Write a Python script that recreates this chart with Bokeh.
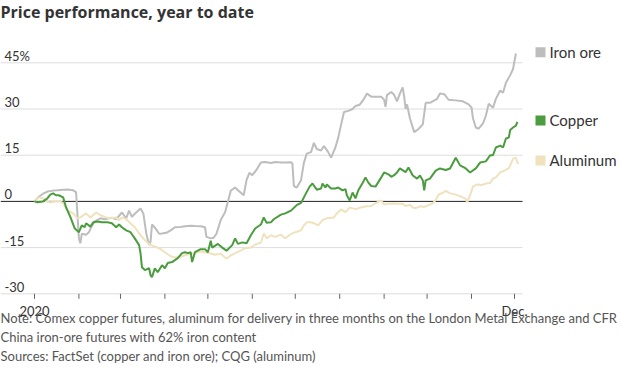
import pandas as pd
from bokeh.plotting import figure
from bokeh.models import Range1d, Label
from bokeh.embed import file_html
from bokeh.resources import INLINE

# ---------------- data (percent change since Jan 1, 2020) ----------------
iron_dates = ["2020-01-01","2020-01-04","2020-01-07","2020-01-10","2020-01-14","2020-01-17","2020-01-21","2020-01-24",
              "2020-01-28","2020-01-30","2020-02-01","2020-02-02","2020-02-03","2020-02-06","2020-02-08","2020-02-10",
              "2020-02-12","2020-02-14","2020-02-16","2020-02-19","2020-02-22","2020-02-24","2020-02-27","2020-03-02",
              "2020-03-05","2020-03-07","2020-03-09","2020-03-11","2020-03-15","2020-03-17","2020-03-19","2020-03-21",
              "2020-03-22","2020-03-23","2020-03-25","2020-03-28","2020-03-30","2020-04-02","2020-04-05","2020-04-08",
              "2020-04-12","2020-04-15","2020-04-19","2020-04-22","2020-04-26","2020-04-29","2020-04-30","2020-05-03",
              "2020-05-05","2020-05-07","2020-05-10","2020-05-13","2020-05-15","2020-05-17","2020-05-20","2020-05-23",
              "2020-05-26","2020-05-28","2020-05-30","2020-06-01","2020-06-04","2020-06-07","2020-06-10","2020-06-14",
              "2020-06-17","2020-06-21","2020-06-24","2020-06-28","2020-06-29","2020-06-30","2020-07-02","2020-07-05",
              "2020-07-07","2020-07-09","2020-07-12","2020-07-14","2020-07-16","2020-07-19","2020-07-21","2020-07-24",
              "2020-07-26","2020-07-29","2020-07-31","2020-08-02","2020-08-04","2020-08-07","2020-08-10","2020-08-12",
              "2020-08-15","2020-08-18","2020-08-20","2020-08-23","2020-08-26","2020-08-30","2020-09-01","2020-09-02",
              "2020-09-03","2020-09-06","2020-09-08","2020-09-10","2020-09-12","2020-09-14","2020-09-15","2020-09-16",
              "2020-09-17","2020-09-19","2020-09-22","2020-09-25","2020-09-28","2020-09-30","2020-10-03","2020-10-08",
              "2020-10-10","2020-10-13","2020-10-16","2020-10-21","2020-10-26","2020-10-30","2020-11-01","2020-11-02",
              "2020-11-04","2020-11-06","2020-11-09","2020-11-11","2020-11-13","2020-11-16","2020-11-18","2020-11-21",
              "2020-11-23","2020-11-25","2020-11-28","2020-11-30","2020-12-01","2020-12-02"]
iron_vals = [0, 1.5, 2.5, 3.2, 3.5, 3.6, 3.8, 3.9,
             3.6, 3.0, -12, -13.6, -10.5, -10.8, -10, -8,
             -6.5, -6, -5.5, -5.8, -5.5, -5.3, -5.8, -3.6,
             -5.5, -3, -5, -4, -2.3, -4, -10.4, -14.2,
             -13, -7.5, -8.5, -10.5, -10.4, -10.2, -9.4, -8.4,
             -8.3, -8.1, -7.9, -8, -8.1, -8.4, -11.5, -12,
             -11.8, -10.5, -6, -3.5, 0, 3.5, 4.5, 3.2,
             2, 7, 9.3, 8.5, 10.3, 12.6, 12.8, 12.5,
             12.8, 12.6, 12.6, 12.7, 12.3, 5, 4.5, 6.8,
             12.5, 15.5, 16, 19, 17, 16.5, 18, 16,
             14.2, 17.5, 20.7, 25, 29, 29.4, 30, 31,
             31.4, 33.3, 35, 34, 34, 34, 33, 30.7,
             34.5, 35.5, 34.6, 32.5, 35, 37, 34, 30,
             31.5, 27, 22.5, 23.5, 25, 32, 32, 33.3,
             35, 34.8, 33, 32.8, 32.5, 31.5, 30.5, 27,
             24, 23.6, 25.3, 27.8, 31.7, 30.4, 33.3, 36,
             35.3, 38.5, 41, 43, 45.6, 48]

copper_dates = ["2020-01-01","2020-01-03","2020-01-07","2020-01-10","2020-01-12","2020-01-14","2020-01-16","2020-01-18",
                "2020-01-21","2020-01-23","2020-01-26","2020-01-29","2020-02-01","2020-02-03","2020-02-05","2020-02-06",
                "2020-02-09","2020-02-11","2020-02-14","2020-02-17","2020-02-21","2020-02-24","2020-02-27","2020-02-29",
                "2020-03-02","2020-03-05","2020-03-08","2020-03-11","2020-03-14","2020-03-15","2020-03-16","2020-03-18",
                "2020-03-21","2020-03-22","2020-03-23","2020-03-25","2020-03-27","2020-03-30","2020-04-01","2020-04-03",
                "2020-04-06","2020-04-10","2020-04-13","2020-04-15","2020-04-17","2020-04-19","2020-04-20","2020-04-22",
                "2020-04-26","2020-04-29","2020-05-01","2020-05-03","2020-05-04","2020-05-08","2020-05-11","2020-05-14",
                "2020-05-18","2020-05-20","2020-05-22","2020-05-25","2020-05-28","2020-05-31","2020-06-03","2020-06-07",
                "2020-06-09","2020-06-11","2020-06-14","2020-06-16","2020-06-21","2020-06-24","2020-06-28","2020-07-02",
                "2020-07-05","2020-07-08","2020-07-11","2020-07-13","2020-07-16","2020-07-19","2020-07-20","2020-07-22",
                "2020-07-23","2020-07-26","2020-07-29","2020-07-31","2020-08-03","2020-08-05","2020-08-06","2020-08-08",
                "2020-08-10","2020-08-12","2020-08-14","2020-08-17","2020-08-19","2020-08-21","2020-08-23","2020-08-26",
                "2020-08-30","2020-09-01","2020-09-04","2020-09-06","2020-09-08","2020-09-10","2020-09-12","2020-09-16",
                "2020-09-18","2020-09-21","2020-09-24","2020-09-26","2020-09-28","2020-09-29","2020-09-30","2020-10-03",
                "2020-10-07","2020-10-10","2020-10-14","2020-10-17","2020-10-21","2020-10-24","2020-10-28","2020-10-31",
                "2020-11-04","2020-11-07","2020-11-11","2020-11-14","2020-11-16","2020-11-18","2020-11-21","2020-11-23",
                "2020-11-25","2020-11-27","2020-11-28","2020-11-30","2020-12-02","2020-12-03"]
copper_vals = [0, -0.3, 0, 1, 2.2, 2.6, 2, 2,
               1.3, -1.9, -5, -8.7, -10, -7.8, -8.4, -7.1,
               -8.2, -6.8, -6.5, -6.8, -6.8, -7.1, -8.4, -7.5,
               -8.4, -9.4, -10, -12, -14.2, -16.8, -21.4, -22.3,
               -21.7, -24, -24.6, -21.7, -23, -20.7, -21.7, -20,
               -19.7, -18.4, -16.8, -16.5, -16.8, -16.5, -19.7, -16.5,
               -15.5, -15.5, -16.5, -12.8, -15, -13.8, -15, -16,
               -14.2, -12, -13.8, -13.3, -13.6, -11, -8.8, -7.5,
               -5.2, -6.9, -6.8, -5.8, -4.3, -3.9, -3, -1.2,
               -0.5, 2.2, 4.8, 5.8, 3.8, 4.2, 5.8, 4.5,
               5.5, 4.2, 4.2, 4.5, 3.6, 4, 2, 0.3,
               2.9, 1, 3.6, 6, 7.8, 6.1, 5, 4.8,
               7.8, 9.4, 8.8, 8, 8.5, 9.4, 10.7, 9.5,
               11, 8.4, 7.4, 8.4, 6.8, 3.6, 6.8, 7.4,
               10, 10.7, 10.2, 10.7, 14.2, 11.7, 10.7, 9.4,
               10.7, 12.6, 13, 15, 15, 17.5, 18.1, 17.5,
               20.4, 20.7, 23.2, 24, 24.6, 25.8]

alu_dates = ["2020-01-01","2020-01-04","2020-01-07","2020-01-09","2020-01-12","2020-01-16","2020-01-19","2020-01-21",
             "2020-01-24","2020-01-28","2020-01-31","2020-02-02","2020-02-06","2020-02-09","2020-02-13","2020-02-16",
             "2020-02-20","2020-02-23","2020-02-27","2020-02-29","2020-03-02","2020-03-05","2020-03-08","2020-03-11",
             "2020-03-15","2020-03-18","2020-03-22","2020-03-25","2020-03-29","2020-04-01","2020-04-05","2020-04-08",
             "2020-04-12","2020-04-15","2020-04-19","2020-04-22","2020-04-26","2020-04-29","2020-05-03","2020-05-06",
             "2020-05-10","2020-05-14","2020-05-17","2020-05-20","2020-05-24","2020-05-27","2020-05-31","2020-06-03",
             "2020-06-07","2020-06-09","2020-06-11","2020-06-14","2020-06-17","2020-06-21","2020-06-24","2020-06-28",
             "2020-07-01","2020-07-05","2020-07-07","2020-07-09","2020-07-12","2020-07-14","2020-07-17","2020-07-20",
             "2020-07-23","2020-07-28","2020-07-30","2020-08-02","2020-08-05","2020-08-08","2020-08-12","2020-08-14",
             "2020-08-17","2020-08-20","2020-08-23","2020-08-26","2020-08-30","2020-09-01","2020-09-03","2020-09-07",
             "2020-09-10","2020-09-14","2020-09-16","2020-09-19","2020-09-21","2020-09-23","2020-09-26","2020-09-29",
             "2020-10-02","2020-10-05","2020-10-07","2020-10-09","2020-10-12","2020-10-14","2020-10-17","2020-10-21",
             "2020-10-24","2020-10-28","2020-10-29","2020-10-31","2020-11-02","2020-11-05","2020-11-08","2020-11-11",
             "2020-11-14","2020-11-16","2020-11-18","2020-11-21","2020-11-24","2020-11-27","2020-11-28","2020-11-30",
             "2020-12-02","2020-12-03","2020-12-04"]
alu_vals = [0, 1.3, 1, 0, -0.3, 0, 0, -0.6,
            -2.9, -3.9, -5.5, -5.2, -3.9, -5.2, -3.6, -4.5,
            -5.2, -5.5, -5.2, -6.1, -5.2, -5.8, -7.1, -8.4,
            -11, -12.6, -14.2, -14.6, -15.5, -16.5, -17.8, -18.2,
            -18, -17.5, -17, -16.8, -16.3, -16.5, -16.9, -17.3,
            -17, -18.6, -17.5, -16.8, -16, -15.2, -15, -14,
            -13.4, -10.4, -12, -11, -11.5, -10.8, -12, -10.6,
            -10, -9.4, -7.8, -6.8, -6.8, -7.1, -7.8, -6.1,
            -5.5, -5.2, -3.9, -2.6, -3.5, -2, -2.5, -2.2,
            -1.8, -1.6, -1.5, -0.6, 0.3, -1, -0.8, -0.7,
            -0.8, -0.8, -1.5, -1.1, -2, -2.2, -1.6, -1.8,
            -1.2, -0.6, 0.5, 2.2, 2.8, 3.4, 2.6, 2.2,
            1.7, 0.8, -0.3, 2, 4.8, 5.5, 5.3, 5.8,
            6, 7.4, 7.8, 9.4, 10, 10.7, 11.7, 13.9,
            14.2, 12.6, 12.3]

series_names = ["Iron ore", "Copper", "Aluminum"]
series_colors = ["#bdbdbd", "#4b9c3e", "#efe2bd"]
legend_y = [48.4, 26.3, 13.3]          # vertical position of legend entries (percent)
y_ticks = [-30, -15, 0, 15, 30, 45]
y_tick_labels = ["-30", "-15", "0", "15", "30", "45%"]
month_starts = pd.date_range("2020-01-01", "2020-12-01", freq="MS")
month_labels = ["2020", "", "", "", "", "", "", "", "", "", "", "Dec."]

title_text = "Price performance, year to date"
note_lines = ["Note: Comex copper futures, aluminum for delivery in three months on the London Metal Exchange and CFR",
              "China iron-ore futures with 62% iron content",
              "Sources: FactSet (copper and iron ore); CQG (aluminum)"]

# ---------------- layout constants (pixels) ----------------
FONT = "Lato"
W, H = 620, 375
JAN1_PX, DEC1_PX = 34, 514          # horizontal pixel of Jan 1 and Dec 1
AXIS_PX = 293.3                     # vertical pixel of the -30 line
PX_PER_PCT = 3.08
PLOT_RIGHT_PX = 522                 # gridlines end here
LEGEND_SQ_PX, LEGEND_TXT_PX = 540, 549
TITLE_MID_PX = 11
XLABEL_MID_PX = 310
NOTE_MID_PX = [317.5, 336.5, 355.5]

jan1 = pd.Timestamp("2020-01-01")
px_per_day = (DEC1_PX - JAN1_PX) / 335.0
def x_at(px):
    return jan1 + pd.Timedelta(days=(px - JAN1_PX) / px_per_day)
y_bottom = y_ticks[0] - (H - AXIS_PX) / PX_PER_PCT
y_top = y_ticks[0] + AXIS_PX / PX_PER_PCT

p = figure(width=W, height=H, x_axis_type="datetime",
           x_axis_location=None, y_axis_location=None,
           toolbar_location=None, output_backend="svg",
           x_range=Range1d(x_at(0), x_at(W)), y_range=Range1d(y_bottom, y_top),
           min_border=0)
p.title.visible = False
p.outline_line_color = None
p.background_fill_color = "white"
p.border_fill_color = "white"
p.xgrid.visible = False
p.ygrid.visible = False

# gridlines (stop at the right end of the plotting area)
grid_y = [t for t in y_ticks if t != 0]
p.segment(x0=[x_at(0)] * len(grid_y), x1=[x_at(PLOT_RIGHT_PX)] * len(grid_y),
          y0=grid_y, y1=grid_y, line_color="#dddddd", line_width=1)
# month ticks below the bottom line
tick_len = 5 / PX_PER_PCT
p.segment(x0=month_starts, x1=month_starts,
          y0=[y_ticks[0]] * len(month_starts), y1=[y_ticks[0] - tick_len] * len(month_starts),
          line_color="#666666", line_width=1)
# zero line
p.segment(x0=[x_at(0)], x1=[x_at(PLOT_RIGHT_PX)], y0=[0], y1=[0], line_color="#222222", line_width=1)

# lines
series = [(iron_dates, iron_vals), (copper_dates, copper_vals), (alu_dates, alu_vals)]
for i in [0, 2, 1]:
    d, v = series[i]
    p.line(pd.to_datetime(d), v, line_color=series_colors[i], line_width=2)

# y tick labels (above gridlines, left aligned)
for t, lab in zip(y_ticks, y_tick_labels):
    p.add_layout(Label(x=4, y=t, x_units="screen", y_units="data", text=lab, y_offset=7,
                       text_font=FONT, text_font_size="13px", text_color="#333333",
                       text_baseline="middle", text_align="left"))

# x tick labels
for d, lab in zip(month_starts, month_labels):
    if lab:
        p.add_layout(Label(x=d, y=H - XLABEL_MID_PX, x_units="data", y_units="screen", text=lab,
                           text_font=FONT, text_font_size="13px",
                           text_color="#333333", text_baseline="middle", text_align="center"))

# legend entries at the right
p.scatter(x=[x_at(LEGEND_SQ_PX)] * 3, y=legend_y, marker="square", size=10,
          fill_color=series_colors, line_color=None)
for name, ly in zip(series_names, legend_y):
    p.add_layout(Label(x=LEGEND_TXT_PX, y=ly, x_units="screen", y_units="data", text=name,
                       text_font=FONT, text_font_size="15px", text_color="#333333",
                       text_baseline="middle", text_align="left"))

# title and notes
p.add_layout(Label(x=0, y=H - TITLE_MID_PX, x_units="screen", y_units="screen",
                   text=title_text, text_font="Open Sans", text_font_size="16px",
                   text_font_style="bold", text_color="#333333", text_baseline="middle"))
for line, mid in zip(note_lines, NOTE_MID_PX):
    p.add_layout(Label(x=0, y=H - mid, x_units="screen", y_units="screen",
                       text=line, text_font=FONT, text_font_size="13px",
                       text_color="#555555", text_baseline="middle"))

open("out.html", "w").write(file_html(p, INLINE))
